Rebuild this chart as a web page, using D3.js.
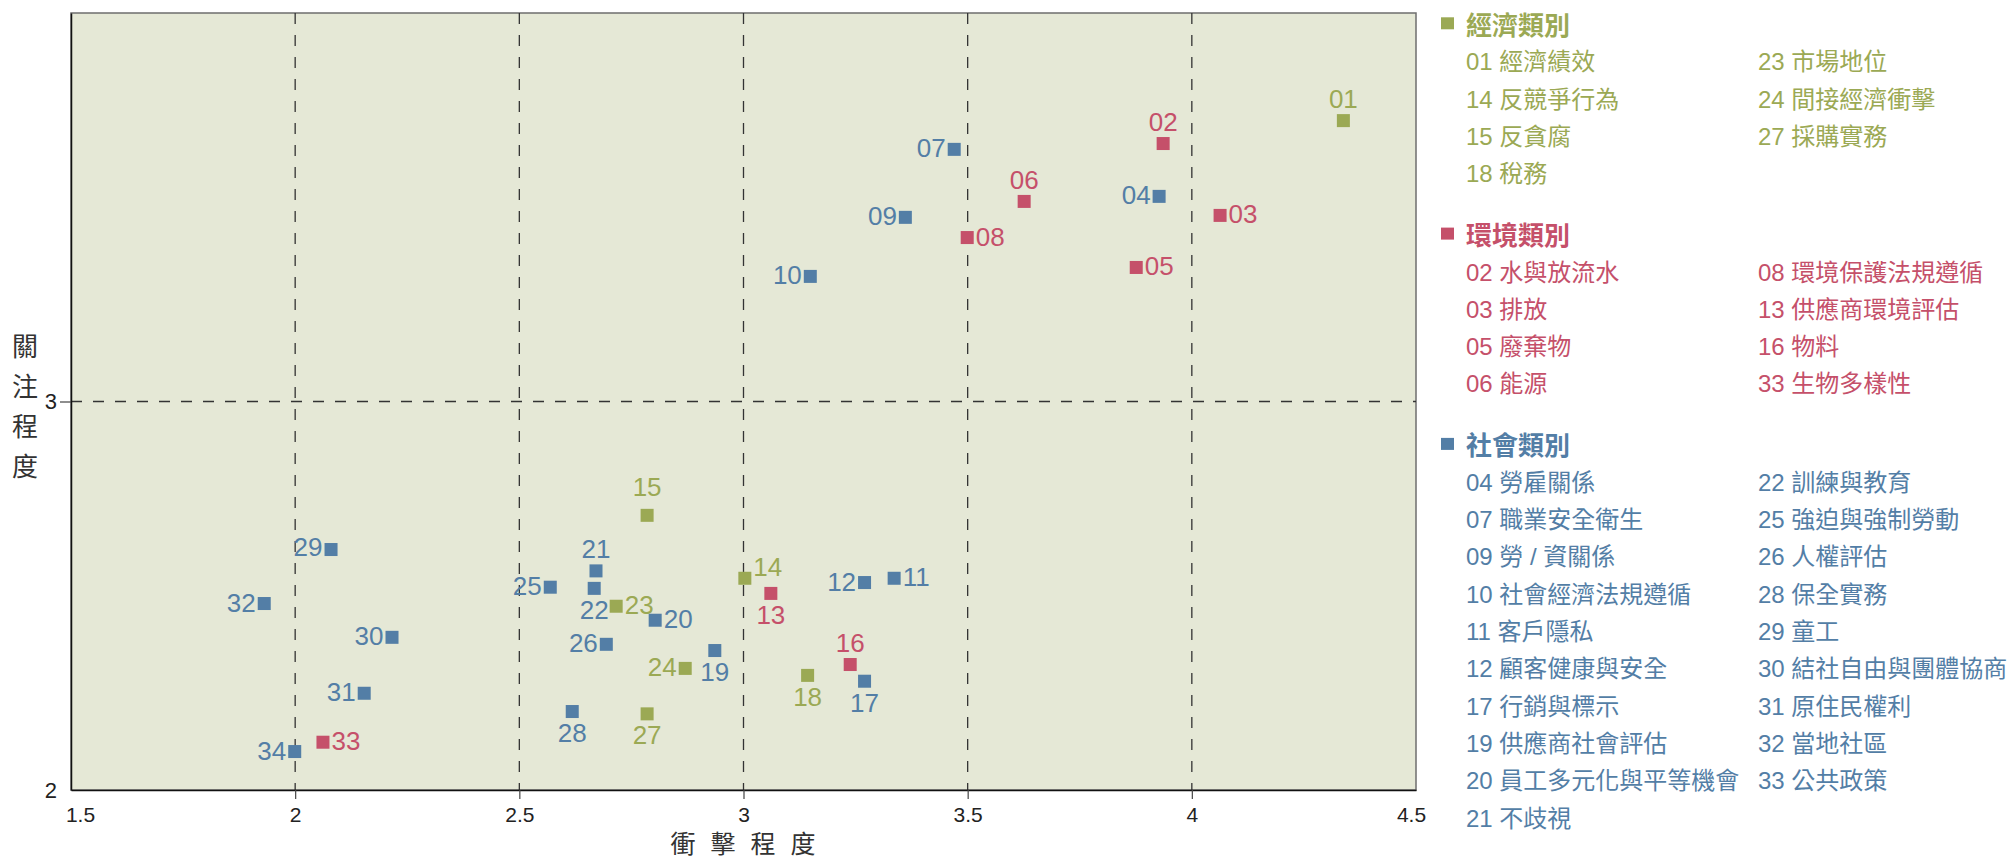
<!DOCTYPE html>
<html>
<head>
<meta charset="utf-8">
<script src="https://cdn.jsdelivr.net/npm/d3@7"></script>
<style>
    body { margin: 0; background: #fff; }
    text { font-family: "Liberation Sans", "Noto Sans CJK TC", sans-serif; }
</style>
</head>
<body>
<div id="chart"></div>
<script>

// 1. Data

const codes = ["01","02","03","04","05","06","07","08","09","10",
               "11","12","13","14","15","16","17","18","19","20",
               "21","22","23","24","25","26","27","28","29","30",
               "31","32","33","34"];
const impact = [4.338, 3.936, 4.063, 3.927, 3.876, 3.626, 3.470, 3.499, 3.361, 3.149,
                3.336, 3.270, 3.061, 3.003, 2.785, 3.238, 3.270, 3.143, 2.936, 2.803,
                2.671, 2.667, 2.716, 2.870, 2.569, 2.694, 2.785, 2.618, 2.080, 2.216,
                2.154, 1.931, 2.062, 1.999];
const concern = [3.723, 3.664, 3.479, 3.528, 3.345, 3.515, 3.649, 3.422, 3.474, 3.322,
                 2.545, 2.534, 2.506, 2.545, 2.707, 2.323, 2.280, 2.295, 2.359, 2.437,
                 2.564, 2.519, 2.473, 2.313, 2.522, 2.375, 2.196, 2.202, 2.619, 2.393,
                 2.249, 2.480, 2.123, 2.099];
const category = ["econ","env","env","soc","env","env","soc","env","soc","soc",
                  "soc","soc","env","econ","econ","env","soc","econ","soc","soc",
                  "soc","soc","econ","econ","soc","soc","econ","soc","soc","soc",
                  "soc","soc","env","soc"];
// where each number label sits relative to its square
const labelSide = ["t","t","r","l","r","t","l","r","l","l",
                   "r","l","b","r","t","t","b","b","b","r",
                   "t","b","r","l","l","l","b","b","l","l",
                   "l","l","r","l"];

const xTicks = [1.5, 2, 2.5, 3, 3.5, 4, 4.5];
const yTicks = [2, 3];
const xTitle = "衝擊程度";
const yTitle = "關注程度";

const groupKeys = ["econ", "env", "soc"];
const groupTitles = ["經濟類別", "環境類別", "社會類別"];
const econItems = ["01 經濟績效","14 反競爭行為","15 反貪腐","18 稅務",
                   "23 市場地位","24 間接經濟衝擊","27 採購實務"];
const envItems = ["02 水與放流水","03 排放","05 廢棄物","06 能源",
                  "08 環境保護法規遵循","13 供應商環境評估","16 物料","33 生物多樣性"];
const socItems = ["04 勞雇關係","07 職業安全衛生","09 勞 / 資關係","10 社會經濟法規遵循",
                  "11 客戶隱私","12 顧客健康與安全","17 行銷與標示","19 供應商社會評估",
                  "20 員工多元化與平等機會","21 不歧視",
                  "22 訓練與教育","25 強迫與強制勞動","26 人權評估","28 保全實務","29 童工",
                  "30 結社自由與團體協商","31 原住民權利","32 當地社區","33 公共政策"];
const groupItems = [econItems, envItems, socItems];

const data = codes.map((c, i) => ({
    code: c, x: impact[i], y: concern[i], cat: category[i], side: labelSide[i]
}));

// 2. Dimensions

const dimensions = {
    width: 2008,
    height: 860,
    margin: {top: 13, right: 592, bottom: 70, left: 71},
};
dimensions.boundedWidth = dimensions.width - dimensions.margin.left - dimensions.margin.right;
dimensions.boundedHeight = dimensions.height - dimensions.margin.top - dimensions.margin.bottom;

const colors = {econ: "#9ba954", env: "#c5506a", soc: "#537ea6"};

// 3. Canvas

const svg = d3.select("#chart")
    .append("svg")
        .attr("width", dimensions.width)
        .attr("height", dimensions.height);

const bounds = svg.append("g")
    .attr("transform", `translate(${dimensions.margin.left},${dimensions.margin.top})`);

// 4. Scales

const xScale = d3.scaleLinear()
    .domain([1.5, 4.5])
    .range([0, dimensions.boundedWidth]);

const yScale = d3.scaleLinear()
    .domain([2, 4])
    .range([dimensions.boundedHeight, 0]);

// 5. Peripherals

bounds.append("rect")
    .attr("width", dimensions.boundedWidth)
    .attr("height", dimensions.boundedHeight)
    .attr("fill", "#e5e8d6")
    .attr("stroke", "#6e6e6e")
    .attr("stroke-width", 1.5);

bounds.append("g")
    .selectAll("line")
    .data(xTicks.slice(1, -1))
    .join("line")
        .attr("x1", d => xScale(d))
        .attr("x2", d => xScale(d))
        .attr("y1", 0)
        .attr("y2", dimensions.boundedHeight)
        .attr("stroke", "#333")
        .attr("stroke-width", 1.3)
        .attr("stroke-dasharray", "11,11");

bounds.append("g")
    .selectAll("line")
    .data(yTicks.slice(1))
    .join("line")
        .attr("x1", 0)
        .attr("x2", dimensions.boundedWidth)
        .attr("y1", d => yScale(d))
        .attr("y2", d => yScale(d))
        .attr("stroke", "#333")
        .attr("stroke-width", 1.3)
        .attr("stroke-dasharray", "11,11");

// x axis
const xAxis = bounds.append("g")
    .attr("transform", `translate(0,${dimensions.boundedHeight})`)
    .call(d3.axisBottom(xScale)
        .tickValues(xTicks)
        .tickFormat(d => String(d))
        .tickSize(9)
        .tickSizeOuter(0)
        .tickPadding(8));
xAxis.select(".domain").attr("stroke", "#111").attr("stroke-width", 1.5);
xAxis.selectAll(".tick line").attr("stroke", "#444").attr("stroke-width", 1.2)
    .filter(d => d === 1.5 || d === 4.5).remove();
xAxis.selectAll(".tick text")
    .attr("font-size", 21)
    .attr("fill", "#222")
    .attr("font-family", "Liberation Sans, sans-serif")
    .attr("dx", d => d === 1.5 ? 9 : d === 4.5 ? -5 : 0);

// y axis
const yAxis = bounds.append("g")
    .call(d3.axisLeft(yScale)
        .tickValues(yTicks)
        .tickFormat(d => String(d))
        .tickSize(11)
        .tickSizeOuter(0)
        .tickPadding(3));
yAxis.select(".domain").attr("stroke", "#111").attr("stroke-width", 1.5);
yAxis.selectAll(".tick line").attr("stroke", "#444").attr("stroke-width", 1.2)
    .filter(d => d === 2).remove();
yAxis.selectAll(".tick text")
    .attr("font-size", 22)
    .attr("fill", "#222")
    .attr("font-family", "Liberation Sans, sans-serif");

// axis titles
svg.append("text")
    .attr("x", dimensions.margin.left + dimensions.boundedWidth / 2 + 7)
    .attr("y", 842)
    .attr("text-anchor", "middle")
    .attr("dominant-baseline", "central")
    .attr("font-size", 25)
    .attr("letter-spacing", "15px")
    .attr("fill", "#333")
    .style("font-family", "'Noto Sans CJK TC', sans-serif")
    .text(xTitle);

svg.append("g")
    .selectAll("text")
    .data(yTitle.split(""))
    .join("text")
        .attr("x", 25)
        .attr("y", (d, i) => 404 + (i - 1.5) * 40)
        .attr("text-anchor", "middle")
        .attr("dominant-baseline", "central")
        .attr("font-size", 26)
        .attr("fill", "#333")
        .style("font-family", "'Noto Sans CJK TC', sans-serif")
        .text(d => d);

// 6. Points

const sq = 13;
const points = bounds.append("g");

points.selectAll("rect")
    .data(data)
    .join("rect")
        .attr("x", d => xScale(d.x) - sq / 2)
        .attr("y", d => yScale(d.y) - sq / 2)
        .attr("width", sq)
        .attr("height", sq)
        .attr("fill", d => colors[d.cat]);

// a few labels are nudged up in the original
const labelNudge = {"14": -10, "15": -7, "29": -2};

points.selectAll("text")
    .data(data)
    .join("text")
        .attr("font-size", 26)
        .attr("fill", d => colors[d.cat])
        .style("font-family", "'Liberation Sans', sans-serif")
        .attr("text-anchor", d => d.side === "l" ? "end" : d.side === "r" ? "start" : "middle")
        .attr("x", d => {
            const cx = xScale(d.x);
            if (d.side === "l") return cx - sq / 2 - 2;
            if (d.side === "r") return cx + sq / 2 + 2;
            return cx;
        })
        .attr("y", d => {
            const cy = yScale(d.y) + (labelNudge[d.code] || 0);
            if (d.side === "t") return cy - sq / 2 - 6;
            if (d.side === "b") return cy + sq / 2 + 24;
            return cy + 8;
        })
        .text(d => d.code);

// 7. Legend

const legend = svg.append("g");
const col1X = 1466;
const col2X = 1758;
const rowStep = 37.3;
let cursorY = 23.3;

groupKeys.forEach((key, gi) => {
    const items = groupItems[gi];
    const half = Math.ceil(items.length / 2);
    const g = legend.append("g");

    g.append("rect")
        .attr("x", 1441)
        .attr("y", cursorY - 6)
        .attr("width", 13)
        .attr("height", 12)
        .attr("fill", colors[key]);

    g.append("text")
        .attr("x", col1X)
        .attr("y", cursorY)
        .attr("dominant-baseline", "central")
        .attr("font-size", 26)
        .attr("font-weight", "bold")
        .attr("fill", colors[key])
        .style("font-family", "'Noto Sans CJK TC', sans-serif")
        .text(groupTitles[gi]);

    const firstRow = cursorY + 38.4;
    g.selectAll("text.item")
        .data(items)
        .join("text")
            .attr("class", "item")
            .attr("x", (d, i) => i < half ? col1X : col2X)
            .attr("y", (d, i) => firstRow + (i < half ? i : i - half) * rowStep)
            .attr("dominant-baseline", "central")
            .attr("font-size", 24)
            .attr("fill", colors[key])
            .text(d => d);

    cursorY = firstRow + (half - 1) * rowStep + 60;
});

</script>
</body>
</html>
